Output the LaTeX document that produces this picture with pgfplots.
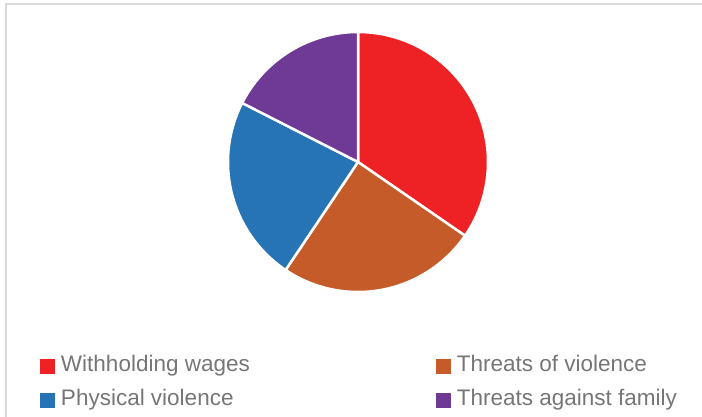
\documentclass[border=0pt]{standalone}
\usepackage{pgfplots}
\pgfplotsset{compat=1.18}
\usepackage{pgfplotstable}
\usepackage{fontspec}
\setmainfont{Liberation Sans}
\definecolor{cWage}{RGB}{238,34,36}
\definecolor{cThreat}{RGB}{197,91,40}
\definecolor{cPhys}{RGB}{38,116,182}
\definecolor{cFam}{RGB}{111,57,150}
\definecolor{txtgray}{RGB}{118,118,118}
\definecolor{framegray}{RGB}{217,217,217}

\pgfplotstableread[col sep=comma]{
label,value
Withholding wages,34.6
Threats of violence,24.8
Physical violence,23.1
Threats against family,17.5
}\piedata

\begin{document}
\begin{tikzpicture}
\useasboundingbox (0bp,0bp) rectangle (702bp,417bp);
\draw[framegray, line width=2bp] (5.5bp,0bp) -- (5.5bp,413bp) -- (702bp,413bp);
% cumulative angles (clockwise from 90 degrees)
\pgfplotstablegetelem{0}{value}\of\piedata \pgfmathsetmacro\vA{\pgfplotsretval}
\pgfplotstablegetelem{1}{value}\of\piedata \pgfmathsetmacro\vB{\pgfplotsretval}
\pgfplotstablegetelem{2}{value}\of\piedata \pgfmathsetmacro\vC{\pgfplotsretval}
\pgfplotstablegetelem{3}{value}\of\piedata \pgfmathsetmacro\vD{\pgfplotsretval}
\pgfmathsetmacro\tot{\vA+\vB+\vC+\vD}
\pgfmathsetmacro\angA{90-360*\vA/\tot}
\pgfmathsetmacro\angB{\angA-360*\vB/\tot}
\pgfmathsetmacro\angC{\angB-360*\vC/\tot}
\pgfmathsetmacro\angD{\angC-360*\vD/\tot}
\begin{axis}[
  at={(358bp,255bp)}, anchor=origin,
  width=260bp, height=260bp, scale only axis,
  xmin=-1, xmax=1, ymin=-1, ymax=1,
  hide axis, clip=false,
  legend columns=2,
  legend cell align=left,
  legend image code/.code={\fill[#1,draw=none] (0bp,-7.5bp) rectangle (15bp,7.5bp);},
  legend style={
    at={(-0.7231,-0.246)}, anchor=north west,
    draw=none, fill=none, inner sep=0pt, outer sep=0pt,
    font=\fontsize{22.5bp}{26bp}\selectfont, text=txtgray,
    nodes={inner sep=0pt, text height=16bp, text depth=5bp},
    row sep=13bp,
    /tikz/every odd column/.append style={column sep=6bp},
    /tikz/every even column/.append style={column sep=186bp},
  },
  every axis plot/.append style={draw=white, line width=2.5bp, line join=round, samples=80},
]
\addplot[fill=cWage, domain=\angA:90] ({cos(x)},{sin(x)}) -- (axis cs:0,0) -- cycle;
\addlegendentry{Withholding wages}
\addplot[fill=cThreat, domain=\angB:\angA] ({cos(x)},{sin(x)}) -- (axis cs:0,0) -- cycle;
\addlegendentry{Threats of violence}
\addplot[fill=cPhys, domain=\angC:\angB] ({cos(x)},{sin(x)}) -- (axis cs:0,0) -- cycle;
\addlegendentry{Physical violence}
\addplot[fill=cFam, domain=\angD:\angC] ({cos(x)},{sin(x)}) -- (axis cs:0,0) -- cycle;
\addlegendentry{Threats against family}
\end{axis}
\end{tikzpicture}
\end{document}
